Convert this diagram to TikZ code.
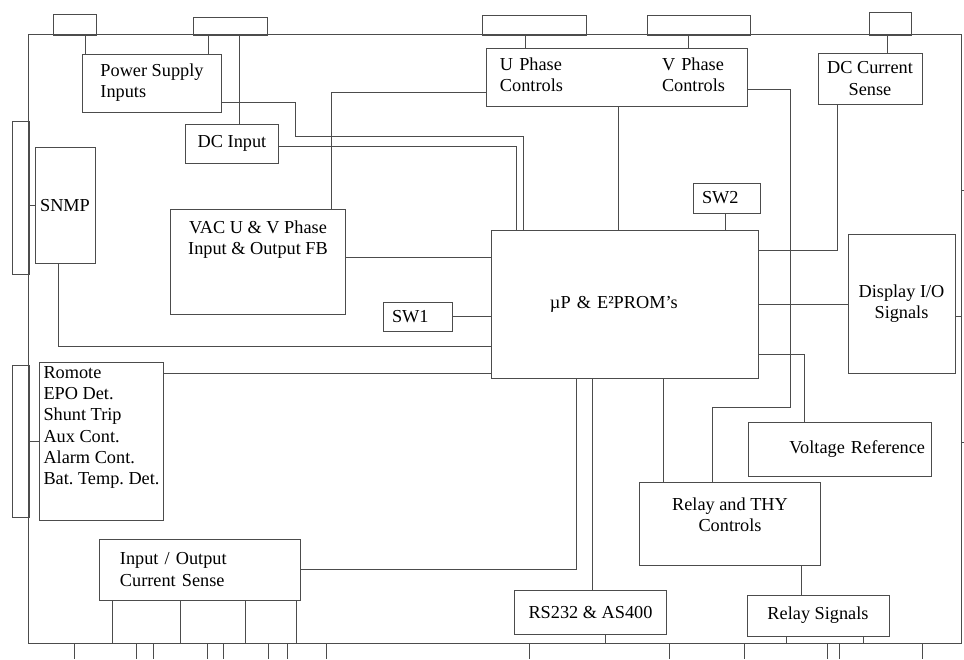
\documentclass[tikz,border=0pt]{standalone}
\usepackage{fontspec}
\setmainfont{Liberation Serif}
\frenchspacing

\begin{document}
\begin{tikzpicture}[x=0.025cm, y=-0.025cm, font=\fontsize{13pt}{15pt}\selectfont]
% Styles for the board, the plugs and the wires
\tikzstyle{box} = [rectangle, draw=black!70, line width=0.7pt, text=black]
\tikzstyle{plug} = [rectangle, draw=black!70, line width=0.7pt, inner sep=0pt]
\tikzstyle{wire} = [draw=black!70, line width=0.7pt]
\useasboundingbox (0,0) rectangle (964,659);

% Outer board and the plugs on its edges
\node (board) [plug, minimum width=23.3cm, minimum height=15.2cm] at (495,339) {};
\node (plug_ps) [plug, minimum width=1.075cm, minimum height=0.525cm] at (74.5,24.5) {};
\node (plug_dc) [plug, minimum width=1.85cm, minimum height=0.45cm] at (230,26) {};
\node (plug_u) [plug, minimum width=2.6cm, minimum height=0.5cm] at (534,25) {};
\node (plug_v) [plug, minimum width=2.575cm, minimum height=0.5cm] at (698.5,25) {};
\node (plug_cs) [plug, minimum width=1.05cm, minimum height=0.575cm] at (890,23.5) {};
\node (plug_snmp) [plug, minimum width=0.425cm, minimum height=3.8cm] at (20.5,198) {};
\node (plug_rem) [plug, minimum width=0.425cm, minimum height=3.775cm] at (20.5,441.5) {};

% Blocks on the board
\node (psi) [box, align=left, minimum width=3.45cm, minimum height=1.45cm] at (152,83) {Power Supply\\Inputs};
\node (dcin) [box, minimum width=2.3cm, minimum height=0.975cm] at (232,143.5) {DC Input};
\node (snmp) [box, minimum width=1.5cm, minimum height=2.875cm] at (65,205.5) {SNMP};
\node (vac) [box, align=center, minimum width=4.35cm, minimum height=2.625cm, text depth=1.2cm] at (258,261.5) {VAC U \& V Phase\\Input \& Output FB};
\node (sw1) [box, align=left, text width=1.275cm, inner xsep=0.225cm, minimum height=0.725cm] at (417.5,316.5) {SW1};
\node (mp) [box, align=left, text width=3.75cm, inner xsep=1.45cm, minimum height=3.675cm] at (625,304.5) {µP \& E²PROM's};
\node (uv) [box, align=left, text width=5.85cm, inner xsep=0.325cm, minimum height=1.45cm] at (617,77) {\begin{tabular}{@{}p{4.05cm}@{}l@{}}U Phase & V Phase\\Controls & Controls\end{tabular}};
\node (sw2) [box, align=left, text width=1.225cm, inner xsep=0.225cm, minimum height=0.75cm] at (726.5,198) {SW2};
\node (dccs) [box, align=center, minimum width=2.6cm, minimum height=1.275cm] at (870,78.5) {DC Current\\Sense};
\node (dio) [box, align=center, minimum width=2.675cm, minimum height=3.45cm] at (901.5,304) {Display I/O\\Signals};
\node (vref) [box, align=right, text width=4.25cm, inner xsep=0.15cm, minimum height=1.35cm] at (840,449) {Voltage Reference};
\node (rthy) [box, align=center, minimum width=4.5cm, minimum height=2.075cm, text depth=0.45cm] at (730,523.5) {Relay and THY\\Controls};
\node (rs) [box, minimum width=3.775cm, minimum height=1.1cm] at (590.5,612) {RS232 \& AS400};
\node (rsig) [box, minimum width=3.55cm, minimum height=1.025cm] at (818,615.5) {Relay Signals};
\node (rem) [box, align=left, inner xsep=0.05cm, inner ysep=0.05cm, minimum width=3.075cm, minimum height=3.925cm, text depth=0.8cm] at (101.5,441.5) {Romote\\EPO Det.\\Shunt Trip\\Aux Cont.\\Alarm Cont.\\Bat. Temp. Det.};
\node (iocs) [box, align=left, text width=4cm, inner xsep=0.5cm, minimum height=1.525cm] at (200,569.5) {Input / Output\\Current Sense};

% Wires from the plugs into the blocks
\draw [wire] (plug_ps.south -| 85,0) -- (psi.north -| 85,0);
\draw [wire] (plug_dc.south -| 208,0) -- (psi.north -| 208,0);
\draw [wire] (plug_dc.south -| 239,0) -- (dcin.north -| 239,0);
\draw [wire] (plug_u.south -| 525,0) -- (uv.north -| 525,0);
\draw [wire] (plug_v.south -| 688,0) -- (uv.north -| 688,0);
\draw [wire] (plug_cs.south -| 887,0) -- (dccs.north -| 887,0);
\draw [wire] (snmp.west) -- (snmp.west -| board.west);
\draw [wire] (rem.west) -- (rem.west -| board.west);
\draw [wire] (dio.east |- 0,316) -- (board.east |- 0,316);

% Wires into the processor
\draw [wire] (psi.east |- 0,102) -| (295,136) -| (mp.north -| 523,0);
\draw [wire] (dcin.east |- 0,146) -| (mp.north -| 516,0);
\draw [wire] (uv.south -| 618,0) -- (mp.north -| 618,0);
\draw [wire] (sw2.south -| 725,0) -- (mp.north -| 725,0);
\draw [wire] (vac.north -| 331,0) |- (uv.west |- 0,92);
\draw [wire] (vac.east |- 0,257) -- (mp.west |- 0,257);
\draw [wire] (sw1.east) -- (sw1.east -| mp.west);
\draw [wire] (snmp.south -| 58,0) |- (mp.west |- 0,346);
\draw [wire] (rem.east |- 0,373) -- (mp.west |- 0,373);
\draw [wire] (iocs.east) -| (mp.south -| 576,0);
\draw [wire] (rs.north -| 592,0) -- (mp.south -| 592,0);
\draw [wire] (rthy.north -| 663,0) -- (mp.south -| 663,0);
\draw [wire] (mp.east |- 0,250) -| (dccs.south -| 837,0);
\draw [wire] (mp.east |- dio.west) -- (dio.west);
\draw [wire] (mp.east |- 0,354) -| (vref.north -| 804,0);
\draw [wire] (uv.east |- 0,89) -| (790,407) -| (rthy.north -| 712,0);
\draw [wire] (rthy.south -| 801,0) -- (rsig.north -| 801,0);

% Wires down to the bottom edge
\foreach \x in {112,180,245,296}
  \draw [wire] (iocs.south -| \x,0) -- (board.south -| \x,0);
\draw [wire] (rs.south -| 605,0) -- (board.south -| 605,0);
\foreach \x in {786,863}
  \draw [wire] (rsig.south -| \x,0) -- (board.south -| \x,0);

% Cut-off plugs below the board and on the right
\foreach \x in {74,136,153,207,223,268,287,326,529,669,744,827,839,922}
  \draw [wire] (board.south -| \x,0) -- (\x,659);
\foreach \y in {190,442}
  \draw [wire] (board.east |- 0,\y) -- (964,\y);
\end{tikzpicture}
\end{document}
